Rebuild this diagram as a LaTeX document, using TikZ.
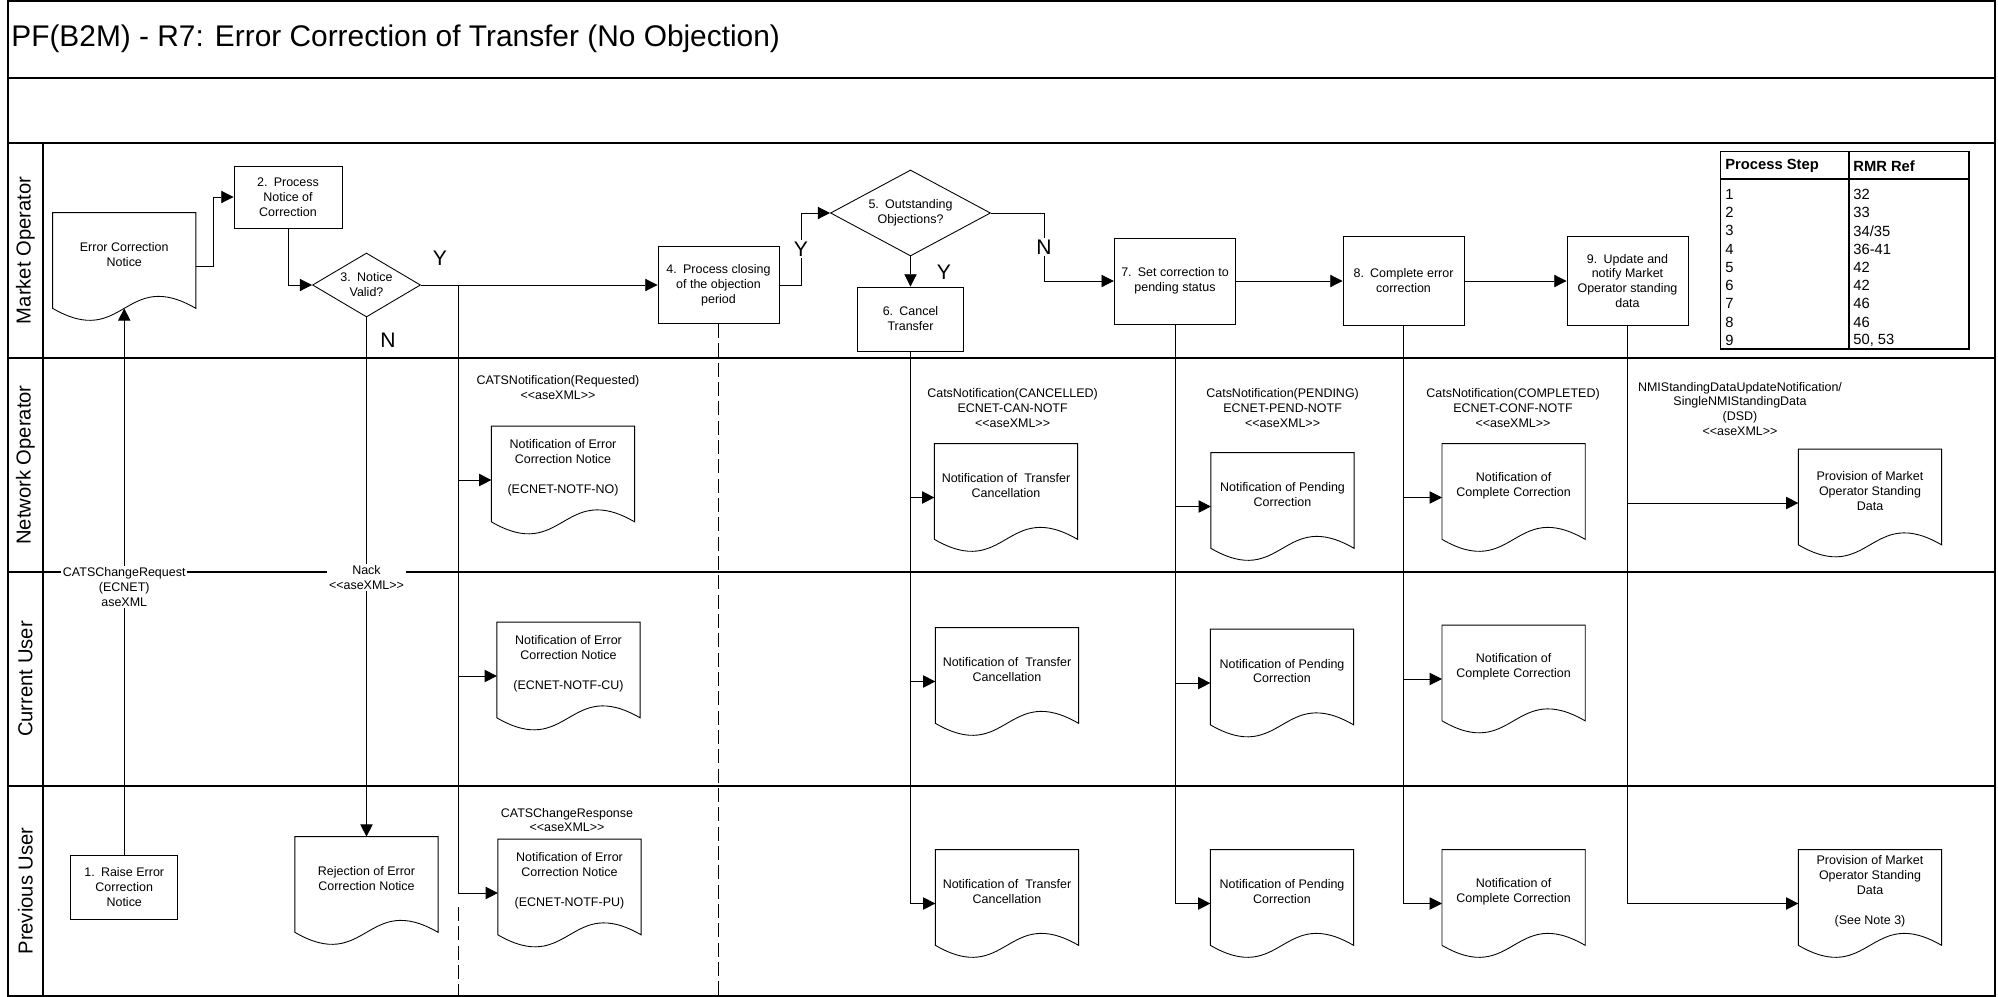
\documentclass[tikz,border=0pt]{standalone}
\usepackage{fontspec}
\setmainfont{Liberation Sans}
\usetikzlibrary{arrows.meta,shapes.geometric,calc}

\newcommand{\flowfont}{\fontsize{7.1}{8.5}\selectfont}
\newcommand{\axml}{<\kern0pt<aseXML>\kern0pt>}
\tikzset{
  lane/.style={line width=1.1pt},
  proc/.style={draw, rectangle, align=center, inner sep=0pt, font=\flowfont, line width=0.5pt},
  dec/.style={draw, diamond, align=center, inner sep=0pt, font=\flowfont, line width=0.5pt},
  doc/.style={minimum width=28.5mm, minimum height=21.4mm, inner sep=0pt},
  doctext/.style={align=center, inner sep=0pt, font=\flowfont},
  msg/.style={align=center, inner sep=1pt, font=\flowfont},
  yn/.style={inner sep=1pt, font=\fontsize{12}{14}\selectfont},
  flow/.style={line width=0.5pt, -{Triangle[length=7pt,width=7pt]}},
  dashline/.style={line width=0.5pt, dash pattern=on 8pt off 3pt},
  tbl/.style={anchor=west, inner sep=0pt, font=\fontsize{8.4}{10}\selectfont},
  lanelbl/.style={rotate=90, inner sep=0pt, font=\fontsize{11.5}{13}\selectfont},
}

% document symbol: name, centre, text
\newcommand{\docnode}[3]{%
  \node[doc] (#1) at (#2) {};
  \node[doctext] (#1t) at ([yshift=6.8pt]#1.center) {#3};
  \draw[line width=0.5pt] (#1.north west) -- (#1.north east) -- ($(#1.south east)+(0,-12)$)
    .. controls ($(#1.south)+(0,-53.5)$) and ($(#1.south)+(0,29.5)$) .. ($(#1.south west)+(0,-12)$) -- cycle;
}

\begin{document}
\begin{tikzpicture}[x=0.2mm, y=-0.2mm]
  \useasboundingbox (0,0) rectangle (1998,997);

  % frame and swim lanes
  \draw[lane] (8,1) rectangle (1995,996);
  \draw[lane] (8,78) -- (1995,78);
  \draw[lane] (8,143) -- (1995,143);
  \draw[lane] (8,358) -- (1995,358);
  \draw[lane] (8,572) -- (1995,572);
  \draw[lane] (8,786) -- (1995,786);
  \draw[lane] (43,143) -- (43,996);
  \coordinate (fb) at (0,996);

  \node[anchor=west, inner sep=0pt, font=\fontsize{17}{20}\selectfont] (title) at (11,39)
    {PF(B2M) - R7: Error Correction of Transfer (No Objection)};

  \node[lanelbl] (mo) at (25.5,250.5) {Market Operator};
  \node[lanelbl] (no) at (25.5,465) {Network Operator};
  \node[lanelbl] (cu) at (25.5,679) {Current User};
  \node[lanelbl] (pu) at (25.5,891) {Previous User};

  % reference table
  \draw[line width=0.6pt] (1720.7,151.7) rectangle (1969,349);
  \draw[line width=0.6pt] (1720.7,179) -- (1969,179);
  \draw[line width=0.6pt] (1849,151.7) -- (1849,349);
  \node[tbl] (hstep) at (1725,166) {\bfseries Process Step};
  \node[tbl] (hrmr) at (1853,166) {\bfseries RMR Ref};
  \foreach \s/\r [count=\i] in {1/32, 2/33, 3/{34/35}, 4/36-41, 5/42, 6/42, 7/46, 8/46, 9/{50, 53}} {
    \node[tbl] (ps\i) at (1725,{176+18.25*\i}) {\s};
    \node[tbl] (rr\i) at (1853,{176+18.25*\i}) {\r};
  }

  % process steps
  \node[proc, minimum width=21.4mm, minimum height=12.8mm] (b1) at (124.25,887) {1.\enspace Raise Error\\Correction\\Notice};
  \node[proc, minimum width=21.6mm, minimum height=12.4mm] (b2) at (288,197) {2.\enspace Process\\Notice of\\Correction};
  \node[dec, aspect=1.7, minimum width=21.6mm, minimum height=12.8mm] (d3) at (366.5,285) {3.\enspace Notice\\Valid?};
  \node[proc, minimum width=24.2mm, minimum height=15.4mm] (b4) at (718.5,285) {4.\enspace Process closing\\of the objection\\period};
  \node[dec, aspect=1.86, minimum width=32mm, minimum height=17.2mm] (d5) at (910.5,213) {5.\enspace Outstanding\\Objections?};
  \node[proc, minimum width=21.2mm, minimum height=12.8mm] (b6) at (910.5,319) {6.\enspace Cancel\\Transfer};
  \node[proc, minimum width=24.3mm, minimum height=17.2mm] (b7) at (1175,281) {7.\enspace Set correction to\\pending status};
  \node[proc, minimum width=24.2mm, minimum height=17.8mm] (b8) at (1403.5,281) {8.\enspace Complete error\\correction};
  \node[proc, minimum width=24.2mm, minimum height=17.8mm] (b9) at (1627.5,281) {9.\enspace Update and\\notify Market\\Operator standing\\data};

  % documents
  \docnode{ecn}{124.25,266.5}{Error Correction\\Notice}
  \docnode{notfNO}{563,480}{Notification of Error\\Correction Notice\\[8.5pt](ECNET-NOTF-NO)}
  \docnode{notfCU}{568.5,676}{Notification of Error\\Correction Notice\\[8.5pt](ECNET-NOTF-CU)}
  \docnode{notfPU}{569.5,893}{Notification of Error\\Correction Notice\\[8.5pt](ECNET-NOTF-PU)}
  \docnode{rej}{366.5,890.5}{Rejection of Error\\Correction Notice}
  \docnode{canNO}{1006,497.5}{Notification of\ \ Transfer\\Cancellation}
  \docnode{canCU}{1007,681.5}{Notification of\ \ Transfer\\Cancellation}
  \docnode{canPU}{1007,903.5}{Notification of\ \ Transfer\\Cancellation}
  \docnode{pendNO}{1282.5,506.5}{Notification of Pending\\Correction}
  \docnode{pendCU}{1282,683}{Notification of Pending\\Correction}
  \docnode{pendPU}{1282,903.5}{Notification of Pending\\Correction}
  \docnode{compNO}{1513.6,497.5}{Notification of\\Complete Correction}
  \docnode{compCU}{1513.6,679}{Notification of\\Complete Correction}
  \docnode{compPU}{1513.6,903.5}{Notification of\\Complete Correction}
  \docnode{provNO}{1870,503}{Provision of Market\\Operator Standing\\Data}
  \docnode{provPU}{1870,903.5}{Provision of Market\\Operator Standing\\Data\\[8.5pt](See Note 3)}

  % message labels
  \node[msg] (mreq) at (558,387.5) {CATSNotification(Requested)\\\axml};
  \node[msg] (mresp) at (567,820) {CATSChangeResponse\\\axml};
  \node[msg] (mcan) at (1012.6,408) {CatsNotification(CANCELLED)\\ECNET-CAN-NOTF\\\axml};
  \node[msg] (mpend) at (1282.6,408) {CatsNotification(PENDING)\\ECNET-PEND-NOTF\\\axml};
  \node[msg] (mcomp) at (1513,408) {CatsNotification(COMPLETED)\\ECNET-CONF-NOTF\\\axml};
  \node[msg] (mnmi) at (1740,409) {NMIStandingDataUpdateNotification/\\SingleNMIStandingData\\(DSD)\\\axml};

  \node[yn] (y3) at (440,258) {Y};
  \node[yn] (n3) at (388,340) {N};
  \node[yn] (y5) at (944,272) {Y};

  % flows
  \draw[flow] (b1.north) -- node[msg, fill=white, pos=0.49] (creq) {CATSChangeRequest\\(ECNET)\\aseXML} ($(ecn.south)+(0,-12)$);
  \draw[flow] (ecn.east) -- ++(17.5,0) |- (b2.west);
  \draw[flow] (b2.south) |- (d3.west);
  \draw[flow] (d3.east) -- (b4.west);
  \coordinate (j3) at ($(d3.east)+(37.6,0)$);
  \draw[flow] (j3) |- (notfPU.west);
  \draw[flow] (j3 |- notfNO.west) -- (notfNO.west);
  \draw[flow] (j3 |- notfCU.west) -- (notfCU.west);
  \draw[dashline] ($(j3 |- notfPU.west)+(0,14)$) -- (j3 |- fb);
  \draw[flow] (d3.south) -- node[msg, fill=white, pos=0.501] (nack) {Nack\\\axml} (rej.north);
  \draw[flow] (b4.east) -- ++(21.5,0) |- node[yn, fill=white, pos=0.25] (y4) {Y} (d5.west);
  \draw[dashline] (b4.south) -- (b4.south |- fb);
  \draw[flow] (d5.south) -- (b6.north);
  \draw[flow] (d5.east) -- ++(53,0) |- node[yn, fill=white, pos=0.25] (n5) {N} (b7.west);
  \draw[flow] (b7.east) -- (b8.west);
  \draw[flow] (b8.east) -- (b9.west);
  % trunks down to the documents
  \draw[flow] (b6.south) |- (canPU.west);
  \foreach \d in {canNO,canCU} \draw[flow] (b6.south |- \d.west) -- (\d.west);
  \draw[flow] (b7.south) |- (pendPU.west);
  \foreach \d in {pendNO,pendCU} \draw[flow] (b7.south |- \d.west) -- (\d.west);
  \draw[flow] (b8.south) |- (compPU.west);
  \foreach \d in {compNO,compCU} \draw[flow] (b8.south |- \d.west) -- (\d.west);
  \draw[flow] (b9.south) |- (provPU.west);
  \draw[flow] (b9.south |- provNO.west) -- (provNO.west);
\end{tikzpicture}
\end{document}
